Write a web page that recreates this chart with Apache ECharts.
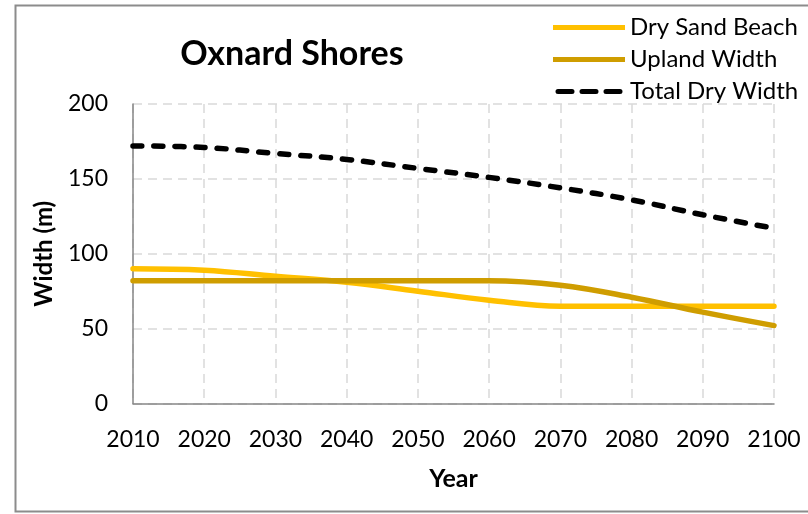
<!DOCTYPE html>
<html>
<head>
<meta charset="utf-8">
<title>Oxnard Shores</title>
<script src="https://cdn.jsdelivr.net/npm/echarts@6/dist/echarts.min.js"></script>
<style>
  html, body { margin: 0; padding: 0; background: #ffffff; }
  #chart { width: 808px; height: 514px; }
</style>
</head>
<body>
<div id="chart"></div>
<script>
// Projected beach widths (m) by decade
const years = ['2010', '2020', '2030', '2040', '2050', '2060', '2070', '2080', '2090', '2100'];
const drySandBeach = [90, 89, 85, 81, 75, 69, 65, 65, 65, 65];
const uplandWidth = [82, 82, 82, 82, 82, 82, 79, 71, 61, 52];
const totalDryWidth = [172, 171, 167, 163, 157, 151, 144, 136, 126, 117];
const yTicks = { min: 0, max: 200, interval: 50 };

const FONT = 'Lato';
const chart = echarts.init(document.getElementById('chart'), null, { renderer: 'canvas' });

const gridLine = { show: true, lineStyle: { color: '#d9d9d9', width: 1.5, type: [9, 6] } };

// Legend swatches: a thick bar for solid lines, three dashes for the dashed one
const solidIcon = 'path://M0 0H72V5H0Z';
const dashIcon = 'path://M2.5 0H16.5A2.5 2.5 0 0 1 16.5 5H2.5A2.5 2.5 0 0 1 2.5 0Z'
  + 'M26.5 0H40.5A2.5 2.5 0 0 1 40.5 5H26.5A2.5 2.5 0 0 1 26.5 0Z'
  + 'M50.5 0H64.5A2.5 2.5 0 0 1 64.5 5H50.5A2.5 2.5 0 0 1 50.5 0Z';

chart.setOption({
  animation: false,
  backgroundColor: '#ffffff',
  textStyle: { fontFamily: FONT, color: '#000000' },
  title: {
    text: 'Oxnard Shores',
    left: 287, top: 32,
    textAlign: 'center',
    textStyle: { fontFamily: FONT, fontWeight: 'bold', fontSize: 34, color: '#000000' }
  },
  legend: {
    orient: 'vertical',
    left: 548, top: 10,
    itemWidth: 72, itemHeight: 5, itemGap: 7,
    textStyle: { fontFamily: FONT, fontSize: 24, lineHeight: 25, color: '#000000' },
    data: [
      { name: 'Dry Sand Beach', icon: solidIcon },
      { name: 'Upland Width', icon: solidIcon },
      { name: 'Total Dry Width', icon: dashIcon }
    ]
  },
  graphic: [{
    type: 'rect',
    shape: { x: 15.5, y: 5.5, width: 850, height: 506 },
    style: { fill: null, stroke: '#8c8c8c', lineWidth: 2 },
    silent: true, z: -1
  }],
  grid: { left: 133, right: 34, top: 104, bottom: 110.5, containLabel: false },
  xAxis: {
    type: 'category',
    data: years,
    boundaryGap: false,
    name: 'Year',
    nameLocation: 'middle',
    nameGap: 63,
    nameTextStyle: { fontFamily: FONT, fontWeight: 'bold', fontSize: 25, color: '#000000' },
    axisLine: { show: true, lineStyle: { color: '#868686', width: 1.5 } },
    axisTick: { show: false },
    axisLabel: { fontFamily: FONT, fontSize: 23, color: '#000000', margin: 25, interval: 0 },
    splitLine: Object.assign({ interval: 0 }, gridLine)
  },
  yAxis: {
    type: 'value',
    min: yTicks.min, max: yTicks.max, interval: yTicks.interval,
    name: 'Width (m)',
    nameLocation: 'middle',
    nameGap: 77,
    nameRotate: 90,
    nameTextStyle: { fontFamily: FONT, fontWeight: 'bold', fontSize: 24, color: '#000000' },
    axisLine: { show: true, lineStyle: { color: '#868686', width: 1.5 } },
    axisTick: { show: false },
    axisLabel: { fontFamily: FONT, fontSize: 23, color: '#000000', margin: 25 },
    splitLine: gridLine
  },
  series: [
    {
      name: 'Dry Sand Beach', type: 'line', data: drySandBeach,
      smooth: 0.4, symbol: 'none',
      lineStyle: { color: '#ffc000', width: 5.5, cap: 'round' },
      itemStyle: { color: '#ffc000' }, z: 3
    },
    {
      name: 'Upland Width', type: 'line', data: uplandWidth,
      smooth: 0.4, symbol: 'none',
      lineStyle: { color: '#cf9d00', width: 5.5, cap: 'round' },
      itemStyle: { color: '#cf9d00' }, z: 4
    },
    {
      name: 'Total Dry Width', type: 'line', data: totalDryWidth,
      smooth: 0.4, symbol: 'none',
      lineStyle: { color: '#000000', width: 5.5, type: [9, 12], cap: 'round' },
      itemStyle: { color: '#000000' }, z: 5
    }
  ]
});
</script>
</body>
</html>
